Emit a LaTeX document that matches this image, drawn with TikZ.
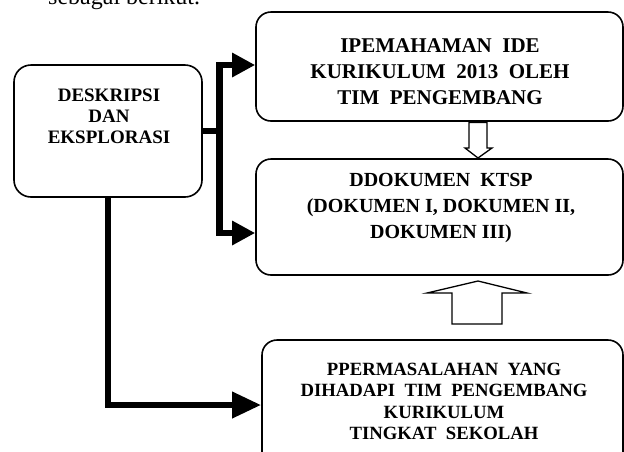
\documentclass[tikz,border=0pt]{standalone}
\usepackage{fontspec}
\setmainfont{Liberation Serif}
\usetikzlibrary{arrows.meta,calc}
\tikzset{
  box/.style={draw, line width=1.6pt, rounded corners=15pt, inner sep=0pt},
  txt/.style={anchor=north, align=center, inner sep=0pt, font=\bfseries\fontsize{20}{26}\selectfont},
  txtb/.style={anchor=north, align=center, inner sep=0pt, font=\bfseries\fontsize{18.7}{21.3}\selectfont},
  conn/.style={line width=6.5pt, line join=miter},
  hollow/.style={draw, line width=1.3pt, fill=white, line join=miter},
}
\begin{document}
\begin{tikzpicture}[x=1pt,y=-1pt]
\useasboundingbox (0,0) rectangle (624,451);
\clip (0,0) rectangle (624,451);
% partially visible heading text
\node[anchor=base west, inner sep=0pt, font=\fontsize{24}{28}\selectfont] (head) at (48,4) {sebagai berikut.};
% boxes
\node[box, minimum width=367pt, minimum height=109pt] (top) at (439.5,66.5) {};
\node[box, minimum width=367pt, minimum height=116pt] (mid) at (439.5,217) {};
\node[box, minimum width=361pt, minimum height=130pt] (bot) at (442.5,405) {};
\node[box, minimum width=188pt, minimum height=132pt, rounded corners=17pt] (left) at (108,131) {};
% texts
\node[txt, font=\bfseries\fontsize{21}{26}\selectfont] (ttop) at (440,38.3) {IPEMAHAMAN~~IDE\\KURIKULUM~~2013~~OLEH\\TIM~~PENGEMBANG};
\node[txt] (tmid) at (441,173.5) {DDOKUMEN~~KTSP\\(DOKUMEN I, DOKUMEN II,\\DOKUMEN III)};
\node[txtb] (tbot) at (444,363) {PPERMASALAHAN~~YANG\\DIHADAPI~~TIM~~PENGEMBANG\\KURIKULUM\\TINGKAT~~SEKOLAH};
\node[txtb, font=\bfseries\fontsize{19}{20.8}\selectfont] (tleft) at (109,89) {DESKRIPSI\\DAN\\EKSPLORASI};
% thick connectors
\coordinate (junc) at (219.5,131);
\coordinate (midin) at ($(mid.west)+(0,16)$);
\draw[conn] (left.east |- junc) -- (junc);
\draw[conn, -{Triangle[length=23pt,width=23pt]}] (junc) |- (top.west |- 0,65);
\draw[conn, -{Triangle[length=23pt,width=23pt]}] (junc) |- (midin);
\draw[conn, -{Triangle[length=29pt,width=25pt]}] (left.south) |- (bot.west);
% hollow block arrows
\path[hollow] (469,122.5) -- (487,122.5) -- (487,148) -- (492,148) -- (478,158) -- (465,148) -- (469,148) -- cycle;
\path[hollow] (452,324) -- (502,324) -- (502,293) -- (527,293) -- (478,281) -- (427,293) -- (452,293) -- cycle;
\end{tikzpicture}
\end{document}
